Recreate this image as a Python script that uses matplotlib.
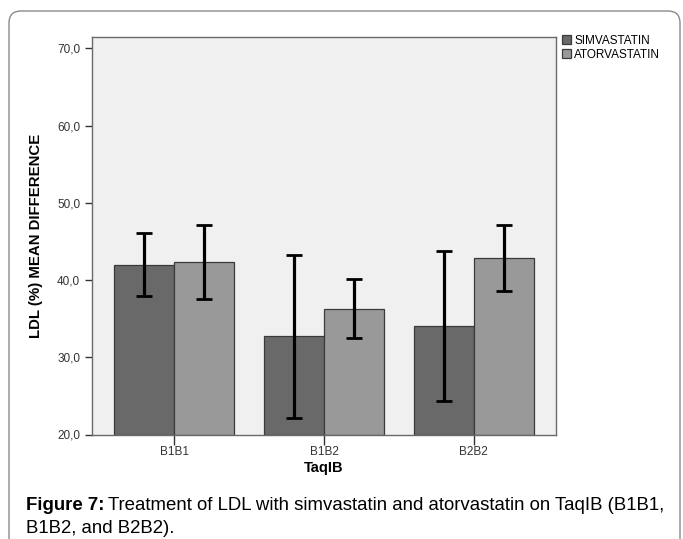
import matplotlib
matplotlib.use('Agg')
import matplotlib.pyplot as plt
from matplotlib.patches import FancyBboxPatch, Patch
import numpy as np

plt.rcParams['font.family'] = ['Liberation Sans', 'DejaVu Sans']

genotypes = ['B1B1', 'B1B2', 'B2B2']
drugs = ['SIMVASTATIN', 'ATORVASTATIN']

# mean LDL difference (%) with 95% CI bounds
simva_mean = [42.0, 32.7, 34.1]
simva_low = [37.9, 22.2, 24.4]
simva_high = [46.1, 43.2, 43.8]

atorva_mean = [42.3, 36.3, 42.8]
atorva_low = [37.6, 32.5, 38.6]
atorva_high = [47.1, 40.1, 47.1]

yticks = [20, 30, 40, 50, 60, 70]

fig = plt.figure(figsize=(6.83, 5.39), dpi=100)

# outer rounded frame
bg = fig.add_axes([0, 0, 1, 1], zorder=-5)
bg.set_xlim(0, 683)
bg.set_ylim(539, 0)
bg.axis('off')
bg.add_patch(FancyBboxPatch((9, 11), 671, 640, boxstyle='round,pad=0,rounding_size=12',
                            fc='white', ec='#8a8a8a', lw=1.0))

ax = fig.add_axes([92/683, 1 - 434.5/539, (556-92)/683, (434.5-37)/539])
ax.set_facecolor('#f0f0f0')

x = np.arange(len(genotypes))
w = 0.4
err_s = [np.array(simva_mean) - np.array(simva_low), np.array(simva_high) - np.array(simva_mean)]
err_a = [np.array(atorva_mean) - np.array(atorva_low), np.array(atorva_high) - np.array(atorva_mean)]

ax.bar(x - w/2, np.array(simva_mean) - 20, w, bottom=20, color='#696969', edgecolor='#3a3a3a',
       linewidth=0.9, label=drugs[0])
ax.bar(x + w/2, np.array(atorva_mean) - 20, w, bottom=20, color='#999999', edgecolor='#3a3a3a',
       linewidth=0.9, label=drugs[1])
ax.errorbar(x - w/2, simva_mean, yerr=err_s, fmt='none', ecolor='black', elinewidth=2.3,
            capsize=5.5, capthick=2.0)
ax.errorbar(x + w/2, atorva_mean, yerr=err_a, fmt='none', ecolor='black', elinewidth=2.3,
            capsize=5.5, capthick=2.0)

ax.set_xlim(-0.55, 2.55)
ax.set_ylim(20, 71.46)
ax.set_yticks(yticks)
ax.set_yticklabels(['%d,0' % v for v in yticks])
ax.set_xticks(x)
ax.set_xticklabels(genotypes)
ax.tick_params(axis='both', labelsize=8.5, colors='#333333', length=5, width=1.0, direction='out')
ax.tick_params(axis='x', length=7, pad=1.5)
for s in ax.spines.values():
    s.set_color('#6a6a6a')
    s.set_linewidth(1.0)

ax.set_ylabel('LDL (%) MEAN DIFFERENCE', fontsize=10.8, fontweight='bold', labelpad=10)
ax.set_xlabel('TaqIB', fontsize=10.5, fontweight='bold', labelpad=2)

handles = [Patch(fc='#696969', ec='#3a3a3a', lw=0.9), Patch(fc='#999999', ec='#3a3a3a', lw=0.9)]
ax.legend(handles, drugs, loc='upper left', bbox_to_anchor=(1.0, 1.02), frameon=False,
          fontsize=8.5, handlelength=0.8, handleheight=0.8, handletextpad=0.25,
          labelspacing=0.15, borderaxespad=0.1)

# caption: bold figure number followed by regular text
cap_size = 13.4
t1 = fig.text(26/683, 1 - 510/539, 'Figure 7:', fontsize=cap_size, fontweight='bold',
              ha='left', va='baseline')
renderer = fig.canvas.get_renderer()
bb = t1.get_window_extent(renderer)
fig.text((bb.x1 + 4)/683, 1 - 510/539,
         'Treatment of LDL with simvastatin and atorvastatin on TaqIB (B1B1,',
         fontsize=cap_size, ha='left', va='baseline')
fig.text(26/683, 1 - 533/539, 'B1B2, and B2B2).', fontsize=cap_size, ha='left', va='baseline')

fig.savefig('out.png', dpi=100)
